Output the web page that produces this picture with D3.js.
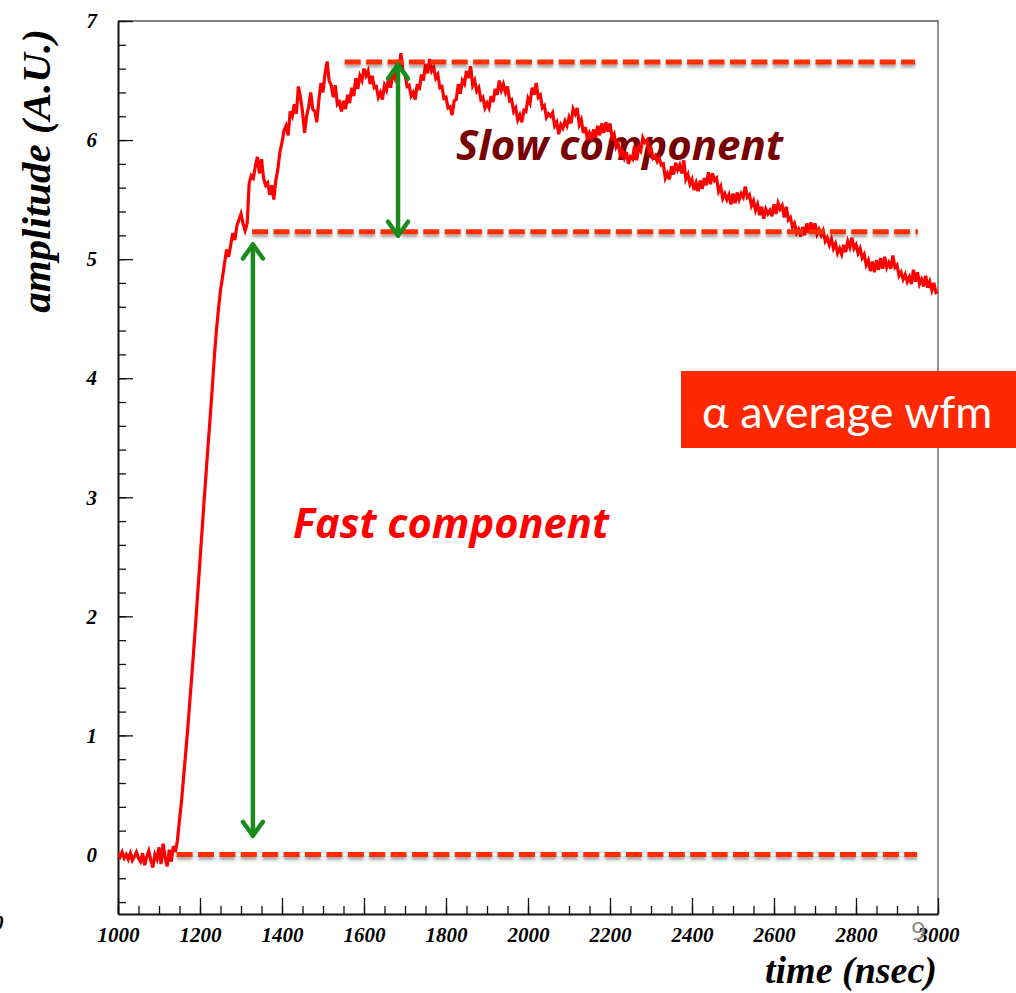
<!DOCTYPE html>
<html>
<head>
<meta charset="utf-8">
<script src="https://cdn.jsdelivr.net/npm/d3@7"></script>
<style>
  html, body { margin: 0; padding: 0; background: #ffffff; overflow: hidden; }
  svg { display: block; }
</style>
</head>
<body>
<svg id="chart" width="1016" height="993"></svg>
<script>
// Averaged alpha waveform, sampled every 5 ns from 1000 ns to 3000 ns
const sampleStart = 1000;
const sampleStep = 5;
const amplitude = [
  0.01,-0.02,0.02,-0.03,0.00,-0.04,0.01,-0.05,-0.02,0.02,-0.03,-0.06,0.01,-0.09,-0.02,0.03,-0.05,-0.11,0.00,-0.04,
  0.06,-0.08,0.09,-0.03,-0.10,0.04,-0.06,0.07,0.02,0.12,0.29,0.45,0.65,0.85,1.05,1.28,1.50,1.73,1.97,2.22,
  2.47,2.72,2.97,3.21,3.45,3.68,3.92,4.18,4.40,4.58,4.74,4.85,4.97,5.08,5.02,5.12,5.22,5.16,5.28,5.33,
  5.38,5.30,5.24,5.30,5.64,5.70,5.68,5.78,5.86,5.72,5.84,5.68,5.62,5.64,5.54,5.62,5.50,5.66,5.76,5.90,
  5.98,6.08,6.12,6.04,6.24,6.20,6.30,6.22,6.45,6.36,6.24,6.06,6.20,6.28,6.40,6.26,6.24,6.15,6.34,6.48,
  6.40,6.56,6.66,6.50,6.46,6.36,6.46,6.30,6.32,6.24,6.33,6.26,6.38,6.31,6.44,6.37,6.52,6.43,6.54,6.50,
  6.60,6.54,6.58,6.47,6.54,6.44,6.45,6.36,6.40,6.34,6.46,6.42,6.52,6.44,6.56,6.52,6.64,6.58,6.73,6.58,
  6.56,6.45,6.46,6.37,6.40,6.34,6.47,6.42,6.55,6.50,6.64,6.56,6.68,6.58,6.61,6.52,6.55,6.44,6.45,6.35,
  6.36,6.27,6.28,6.21,6.33,6.34,6.47,6.39,6.50,6.47,6.58,6.52,6.62,6.46,6.50,6.41,6.44,6.34,6.36,6.27,
  6.31,6.27,6.37,6.32,6.43,6.38,6.50,6.42,6.47,6.40,6.45,6.33,6.34,6.24,6.27,6.17,6.21,6.15,6.25,6.24,
  6.35,6.31,6.44,6.38,6.48,6.36,6.38,6.27,6.29,6.19,6.22,6.20,6.23,6.12,6.15,6.05,6.13,6.10,6.16,6.12,
  6.19,6.14,6.26,6.22,6.27,6.13,6.17,6.06,6.11,6.00,6.06,6.02,6.09,6.02,6.12,6.04,6.14,6.06,6.15,6.07,
  6.14,6.02,6.05,5.94,5.97,5.88,5.91,5.85,5.90,5.80,5.86,5.84,5.95,5.83,5.94,5.91,6.02,5.98,6.00,5.90,
  5.93,5.85,5.87,5.82,5.85,5.79,5.80,5.68,5.72,5.67,5.78,5.71,5.81,5.75,5.79,5.72,5.83,5.67,5.71,5.63,
  5.67,5.58,5.64,5.57,5.66,5.59,5.68,5.62,5.73,5.63,5.72,5.66,5.68,5.57,5.61,5.51,5.55,5.50,5.54,5.46,
  5.55,5.47,5.56,5.50,5.55,5.52,5.61,5.52,5.54,5.45,5.49,5.41,5.46,5.37,5.44,5.34,5.42,5.38,5.41,5.36,
  5.46,5.38,5.47,5.42,5.45,5.35,5.44,5.33,5.35,5.27,5.30,5.22,5.25,5.19,5.27,5.20,5.30,5.22,5.31,5.22,
  5.30,5.21,5.25,5.20,5.24,5.15,5.18,5.12,5.17,5.09,5.13,5.05,5.09,5.04,5.12,5.06,5.15,5.10,5.18,5.09,
  5.12,5.05,5.09,5.01,5.04,4.95,4.99,4.90,4.98,4.89,4.99,4.91,5.01,4.92,5.02,4.93,4.97,4.92,5.03,4.93,
  4.95,4.86,4.89,4.83,4.87,4.81,4.85,4.79,4.91,4.81,4.89,4.79,4.83,4.77,4.86,4.76,4.81,4.74,4.80,4.72,
  4.73
];

// Reference levels: baseline, end of the fast rise, top of the slow rise
const levelValues = [0, 5.23, 6.655];
const levelStarts = [1143, 1327, 1553];
const levelEnds   = [2949, 2951, 2944];

// Double-headed arrows marking the two components (time, lower tip, upper tip)
const arrowTimes = [1329, 1683];
const arrowLow   = [0.14, 5.18];
const arrowHigh  = [5.14, 6.65];

// Axis ticks
const xMajorTicks = [1000, 1200, 1400, 1600, 1800, 2000, 2200, 2400, 2600, 2800, 3000];
const yMajorTicks = [0, 1, 2, 3, 4, 5, 6, 7];

const svg = d3.select("#chart");
const W = 1016, H = 993;
const plot = { left: 118, right: 938, top: 21, bottom: 914 };

const x = d3.scaleLinear().domain([1000, 3000]).range([plot.left, plot.right]);
const y = d3.scaleLinear().domain([-0.5, 7]).range([plot.bottom, plot.top]);

const defs = svg.append("defs");
const shadow = defs.append("filter").attr("id", "dashShadow")
  .attr("filterUnits", "userSpaceOnUse")
  .attr("x", 0).attr("y", 0).attr("width", W).attr("height", H);
shadow.append("feDropShadow").attr("dx", 0).attr("dy", 3).attr("stdDeviation", 1.6)
  .attr("flood-color", "#000").attr("flood-opacity", 0.35);

defs.append("clipPath").attr("id", "plotClip").append("rect")
  .attr("x", plot.left).attr("y", plot.top)
  .attr("width", plot.right - plot.left).attr("height", plot.bottom - plot.top);

// Frame: top and right edges
svg.append("path")
  .attr("d", `M${plot.left},${plot.top}H${plot.right}V${plot.bottom}`)
  .attr("fill", "none").attr("stroke", "#555").attr("stroke-width", 1.3);

const serifBI = "'Liberation Serif', 'Times New Roman', serif";

// Minor ticks
const xMinor = d3.range(1000, 3001, 50);
const yMinor = d3.range(-0.4, 7.01, 0.2).map(v => +v.toFixed(1));

svg.append("g").attr("transform", `translate(0,${plot.bottom})`)
  .call(d3.axisBottom(x).tickValues(xMinor).tickSize(-8).tickSizeOuter(0).tickFormat(""))
  .call(g => g.select(".domain").remove())
  .call(g => g.selectAll("line").attr("stroke", "#111").attr("stroke-width", 1.3));

svg.append("g").attr("transform", `translate(${plot.left},0)`)
  .call(d3.axisLeft(y).tickValues(yMinor).tickSize(-8).tickSizeOuter(0).tickFormat(""))
  .call(g => g.select(".domain").remove())
  .call(g => g.selectAll("line").attr("stroke", "#111").attr("stroke-width", 1.3));

// Major ticks with labels
const xAxis = svg.append("g").attr("transform", `translate(0,${plot.bottom})`)
  .call(d3.axisBottom(x).tickValues(xMajorTicks).tickSize(-16).tickSizeOuter(0).tickPadding(13).tickFormat(d3.format("d")));
xAxis.select(".domain").attr("stroke", "#111").attr("stroke-width", 2);
xAxis.selectAll("line").attr("stroke", "#111").attr("stroke-width", 1.3);
xAxis.selectAll("text")
  .attr("font-family", serifBI).attr("font-style", "italic").attr("font-weight", "bold")
  .attr("font-size", 21).attr("fill", "#000");

const yAxis = svg.append("g").attr("transform", `translate(${plot.left},0)`)
  .call(d3.axisLeft(y).tickValues(yMajorTicks).tickSize(-15).tickSizeOuter(0).tickPadding(21).tickFormat(d3.format("d")));
yAxis.select(".domain").attr("stroke", "#111").attr("stroke-width", 2);
yAxis.selectAll("line").attr("stroke", "#111").attr("stroke-width", 1.3);
yAxis.selectAll("text")
  .attr("font-family", serifBI).attr("font-style", "italic").attr("font-weight", "bold")
  .attr("font-size", 21).attr("fill", "#000");

// Stray label at far left edge
svg.append("text").attr("x", -7).attr("y", 930).text("0")
  .attr("font-family", serifBI).attr("font-style", "italic").attr("font-weight", "bold")
  .attr("font-size", 21).attr("fill", "#000");

// Axis titles
svg.append("text")
  .attr("transform", `translate(50,${(30 + 312) / 2}) rotate(-90)`)
  .attr("text-anchor", "middle")
  .attr("font-family", serifBI).attr("font-style", "italic").attr("font-weight", "bold")
  .attr("font-size", 41).attr("fill", "#000")
  .text("amplitude (A.U.)");

svg.append("text")
  .attr("x", 937).attr("y", 983).attr("text-anchor", "end")
  .attr("font-family", serifBI).attr("font-style", "italic").attr("font-weight", "bold")
  .attr("font-size", 38).attr("fill", "#000")
  .text("time (nsec)");

const sansBI = "'Open Sans', Lato, sans-serif";

// Component labels
svg.append("text")
  .attr("x", 456).attr("y", 160)
  .attr("font-family", sansBI).attr("font-style", "italic").attr("font-weight", "bold")
  .attr("font-size", 42).attr("fill", "#780000")
  .text("Slow component");

svg.append("text")
  .attr("x", 293).attr("y", 538)
  .attr("font-family", sansBI).attr("font-style", "italic").attr("font-weight", "bold")
  .attr("font-size", 41.6).attr("fill", "#ff0000")
  .text("Fast component");

// Waveform
const wave = amplitude.map((v, i) => ({ t: sampleStart + i * sampleStep, v }));
svg.append("path")
  .datum(wave)
  .attr("clip-path", "url(#plotClip)")
  .attr("fill", "none")
  .attr("stroke", "#ff0000")
  .attr("stroke-width", 3.2)
  .attr("stroke-linejoin", "miter")
  .attr("d", d3.line().x(d => x(d.t)).y(d => y(d.v)));

// Dashed reference levels
svg.append("g").selectAll("line")
  .data(levelValues)
  .join("line")
  .attr("x1", (d, i) => x(levelStarts[i]))
  .attr("x2", (d, i) => x(levelEnds[i]))
  .attr("y1", d => y(d)).attr("y2", d => y(d))
  .attr("stroke", "#ff2d00")
  .attr("stroke-width", 5)
  .attr("stroke-dasharray", "16 5.4")
  .attr("filter", "url(#dashShadow)");

// Green double-headed arrows
const arrowG = svg.append("g")
  .attr("stroke", "#1b8c1b").attr("stroke-width", 4.5)
  .attr("stroke-linecap", "round").attr("stroke-linejoin", "round").attr("fill", "none");
arrowTimes.forEach((t, i) => {
  const ax = x(t), yLo = y(arrowLow[i]), yHi = y(arrowHigh[i]);
  arrowG.append("line").attr("x1", ax).attr("x2", ax).attr("y1", yHi + 2).attr("y2", yLo - 2);
  arrowG.append("path").attr("d", `M${ax - 10},${yHi + 16}L${ax},${yHi + 2}L${ax + 10},${yHi + 16}`);
  arrowG.append("path").attr("d", `M${ax - 10},${yLo - 16}L${ax},${yLo - 2}L${ax + 10},${yLo - 16}`);
});

// Legend tag
svg.append("rect")
  .attr("x", 681).attr("y", 371).attr("width", W - 681 + 2).attr("height", 77)
  .attr("fill", "#ff2800");
svg.append("text")
  .attr("x", 702).attr("y", 428)
  .attr("font-family", "Lato, 'Open Sans', sans-serif").attr("font-size", 45)
  .attr("fill", "#ffffff")
  .text("α average wfm");

// Page number
svg.append("text")
  .attr("x", 911).attr("y", 940)
  .attr("font-family", "'Open Sans', sans-serif").attr("font-size", 26)
  .attr("fill", "#8a8a8a")
  .text("9");
</script>
</body>
</html>
